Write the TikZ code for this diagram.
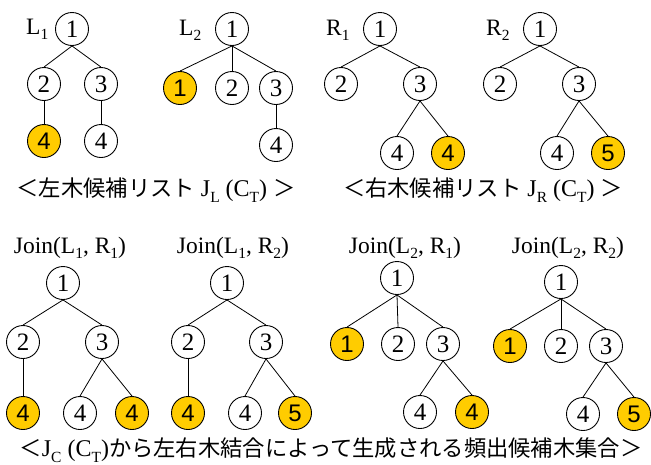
\documentclass[tikz,border=0pt]{standalone}
\usepackage{fontspec}
\setmainfont{Liberation Serif}
\newfontfamily\sansf{Liberation Sans}
\newfontfamily\cjk{Noto Sans CJK JP}
\definecolor{gold}{RGB}{255,204,0}
\newcommand{\mysub}[1]{\raisebox{-0.25em}{\fontsize{15.5}{15.5}\selectfont #1}}
\newcommand{\cj}[1]{{\cjk\fontsize{22.3}{22.3}\selectfont #1}}
\begin{document}
\begin{tikzpicture}[x=1pt,y=-1pt,
 nd/.style={circle,draw,line width=0.9pt,minimum size=33pt,inner sep=0pt,font=\fontsize{25}{25}\selectfont},
 hl/.style={nd,fill=gold,font=\sansf\fontsize{24}{24}\selectfont},
 conn/.style={line width=0.8pt},
 lbl/.style={inner sep=0pt,font=\fontsize{23.5}{23.5}\selectfont},
 captxt/.style={inner sep=0pt,font=\fontsize{24}{24}\selectfont}]
\useasboundingbox (0,0) rectangle (651,464);
% ---- L1
\node[lbl,anchor=base west] (lL1) at (26,34) {L\mysub{1}};
\node[nd] (a1) at (72,29) {1};
\node[nd] (a2) at (44,84) {2};
\node[nd] (a3) at (101,84) {3};
\node[hl] (a4) at (44,141) {4};
\node[nd] (a5) at (101,141) {4};
\draw[conn] (a1.south) -- (a2.north);
\draw[conn] (a1.south) -- (a3.north);
\draw[conn] (a2.south) -- (a4.north);
\draw[conn] (a3.south) -- (a5.north);
% ---- L2
\node[lbl,anchor=base west] (lL2) at (179,35) {L\mysub{2}};
\node[nd] (b1) at (232,29) {1};
\node[hl] (b2) at (180,88) {1};
\node[nd] (b3) at (232,88) {2};
\node[nd] (b4) at (276,88) {3};
\node[nd] (b5) at (276,145) {4};
\draw[conn] (b1.south) -- (b2.north);
\draw[conn] (b1.south) -- (b3.north);
\draw[conn] (b1.south) -- (b4.north);
\draw[conn] (b4.south) -- (b5.north);
% ---- R1
\node[lbl,anchor=base west] (lR1) at (326,35) {R\mysub{1}};
\node[nd] (c1) at (380,29) {1};
\node[nd] (c2) at (341,84) {2};
\node[nd] (c3) at (420,84) {3};
\node[nd] (c4) at (397,153) {4};
\node[hl] (c5) at (448,153) {4};
\draw[conn] (c1.south) -- (c2.north);
\draw[conn] (c1.south) -- (c3.north);
\draw[conn] (c3.south) -- (c4.north);
\draw[conn] (c3.south) -- (c5.north);
% ---- R2
\node[lbl,anchor=base west] (lR2) at (486,35) {R\mysub{2}};
\node[nd] (d1) at (540,29) {1};
\node[nd] (d2) at (500,84) {2};
\node[nd] (d3) at (579,84) {3};
\node[nd] (d4) at (557,153) {4};
\node[hl] (d5) at (608,153) {5};
\draw[conn] (d1.south) -- (d2.north);
\draw[conn] (d1.south) -- (d3.north);
\draw[conn] (d3.south) -- (d4.north);
\draw[conn] (d3.south) -- (d5.north);
% ---- captions top
\node[captxt,anchor=base] (cap1) at (156,196) {\cj{＜左木候補リスト} J\mysub{L} (C\mysub{T}) \cj{＞}};
\node[captxt,anchor=base] (cap2) at (483,196) {\cj{＜右木候補リスト} J\mysub{R} (C\mysub{T}) \cj{＞}};
% ---- Join(L1,R1)
\node[lbl,anchor=base] (j1) at (70,253) {Join(L\mysub{1}, R\mysub{1})};
\node[nd] (e1) at (63,283) {1};
\node[nd] (e2) at (23,342) {2};
\node[nd] (e3) at (102,342) {3};
\node[hl] (e4) at (23,413) {4};
\node[nd] (e5) at (80,413) {4};
\node[hl] (e6) at (132,413) {4};
\draw[conn] (e1.south) -- (e2.north);
\draw[conn] (e1.south) -- (e3.north);
\draw[conn] (e2.south) -- (e4.north);
\draw[conn] (e3.south) -- (e5.north);
\draw[conn] (e3.south) -- (e6.north);
% ---- Join(L1,R2)
\node[lbl,anchor=base] (j2) at (233,253) {Join(L\mysub{1}, R\mysub{2})};
\node[nd] (f1) at (227,283) {1};
\node[nd] (f2) at (188,342) {2};
\node[nd] (f3) at (266,342) {3};
\node[hl] (f4) at (188,413) {4};
\node[nd] (f5) at (245,413) {4};
\node[hl] (f6) at (295,413) {5};
\draw[conn] (f1.south) -- (f2.north);
\draw[conn] (f1.south) -- (f3.north);
\draw[conn] (f2.south) -- (f4.north);
\draw[conn] (f3.south) -- (f5.north);
\draw[conn] (f3.south) -- (f6.north);
% ---- Join(L2,R1)
\node[lbl,anchor=base] (j3) at (405,253) {Join(L\mysub{2}, R\mysub{1})};
\node[nd] (g1) at (397,278) {1};
\node[hl] (g2) at (347,344) {1};
\node[nd] (g3) at (398,344) {2};
\node[nd] (g4) at (443,344) {3};
\node[nd] (g5) at (420,412) {4};
\node[hl] (g6) at (472,412) {4};
\draw[conn] (g1.south) -- (g2.north);
\draw[conn] (g1.south) -- (g3.north);
\draw[conn] (g1.south) -- (g4.north);
\draw[conn] (g4.south) -- (g5.north);
\draw[conn] (g4.south) -- (g6.north);
% ---- Join(L2,R2)
\node[lbl,anchor=base] (j4) at (568,253) {Join(L\mysub{2}, R\mysub{2})};
\node[nd] (h1) at (561,282) {1};
\node[hl] (h2) at (510,346) {1};
\node[nd] (h3) at (561,346) {2};
\node[nd] (h4) at (606,346) {3};
\node[nd] (h5) at (583,414) {4};
\node[hl] (h6) at (634,414) {5};
\draw[conn] (h1.south) -- (h2.north);
\draw[conn] (h1.south) -- (h3.north);
\draw[conn] (h1.south) -- (h4.north);
\draw[conn] (h4.south) -- (h5.north);
\draw[conn] (h4.south) -- (h6.north);
% ---- caption bottom
\node[captxt,anchor=base] (cap3) at (331,456) {\cj{＜}J\mysub{C} (C\mysub{T})\cj{から左右木結合によって生成される頻出候補木集合＞}};
\end{tikzpicture}
\end{document}
